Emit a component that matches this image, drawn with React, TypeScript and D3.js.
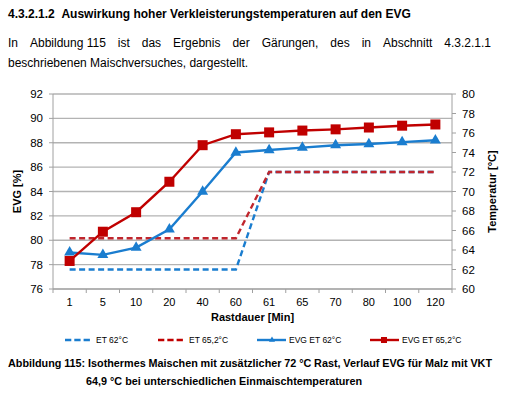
import { scaleBand, scaleLinear, line, symbol, symbolTriangle } from 'd3'

const categories = ['1', '5', '10', '20', '40', '60', '61', '65', '70', '80', '100', '120']
const et62 = [62, 62, 62, 62, 62, 62, 72, 72, 72, 72, 72, 72]
const et652 = [65.2, 65.2, 65.2, 65.2, 65.2, 65.2, 72, 72, 72, 72, 72, 72]
const evg62 = [79.0, 78.8, 79.4, 80.9, 84.0, 87.2, 87.4, 87.6, 87.8, 87.9, 88.05, 88.2]
const evg652 = [78.3, 80.7, 82.3, 84.8, 87.8, 88.7, 88.85, 89.0, 89.1, 89.25, 89.4, 89.5]
const leftTicks = [76, 78, 80, 82, 84, 86, 88, 90, 92]
const rightTicks = [60, 62, 64, 66, 68, 70, 72, 74, 76, 78, 80]

const width = 509
const height = 394
const plot = { left: 53, right: 452, top: 94, bottom: 289 }

const blue = '#1a7dcf'
const red = '#c00000'
const redDash = '#c0262d'
const FONT = 'Liberation Sans, Arial, sans-serif'

let ctx: CanvasRenderingContext2D | null = null
const measure = (txt: string, font: string) => {
  if (!ctx) ctx = document.createElement('canvas').getContext('2d')
  if (!ctx) return txt.length * 6
  ctx.font = font
  return ctx.measureText(txt).width
}

// spread words from x0 to x1 (block justified text)
const justify = (txt: string, x0: number, x1: number, font: string) => {
  const words = txt.split(' ')
  const ws = words.map(w => measure(w, font))
  const total = ws.reduce((a, b) => a + b, 0)
  const gap = (x1 - x0 - total) / (words.length - 1)
  let x = x0
  return words.map((w, i) => {
    const pos = x
    x += ws[i] + gap
    return { w, x: pos }
  })
}

function App() {
  const x = scaleBand().domain(categories).range([plot.left, plot.right])
  const yL = scaleLinear().domain([76, 92]).range([plot.bottom, plot.top])
  const yR = scaleLinear().domain([60, 80]).range([plot.bottom, plot.top])
  const cx = (i: number) => (x(categories[i]) ?? 0) + x.bandwidth() / 2

  const lineL = line<number>().x((_, i) => cx(i)).y(d => yL(d))
  const lineR = line<number>().x((_, i) => cx(i)).y(d => yR(d))
  const tri = symbol().type(symbolTriangle).size(52)()
  const triSmall = symbol().type(symbolTriangle).size(16)()

  const pFont = `12px ${FONT}`
  const para1 = justify('In Abbildung\u00a0115 ist das Ergebnis der Gärungen, des in Abschnitt 4.3.2.1.1', 8, 491, pFont)
  const cFont = `bold 10.8px ${FONT}`
  const cap1 = justify('Abbildung 115: Isothermes Maischen mit zusätzlicher 72 °C Rast, Verlauf EVG für Malz mit VKT', 8, 492, cFont)

  const legend = [
    { label: 'ET 62°C', x: 65, color: blue, dash: true },
    { label: 'ET 65,2°C', x: 158, color: red, dash: true },
    { label: 'EVG ET 62°C', x: 257, color: blue, marker: 'tri' },
    { label: 'EVG ET 65,2°C', x: 370, color: red, marker: 'sq' },
  ]
  const legY = 340

  return (
    <svg width={width} height={height} style={{ position: 'absolute', left: 0, top: 0, background: '#fff' }} fontFamily={FONT}>
      <text x={8} y={18} fontSize={12} fontWeight="bold">4.3.2.1.2{'\u00a0\u00a0'}Auswirkung hoher Verkleisterungstemperaturen auf den EVG</text>
      {para1.map(p => (
        <text key={p.w} x={p.x} y={47} fontSize={12}>{p.w}</text>
      ))}
      <text x={8} y={67} fontSize={12}>beschriebenen Maischversuches, dargestellt.</text>

      {/* grid */}
      {leftTicks.map(t => (
        <line key={t} x1={plot.left} x2={plot.right} y1={yL(t)} y2={yL(t)} stroke="#b3b3b3" strokeWidth={1.4} />
      ))}

      {/* axes */}
      <line x1={plot.left} x2={plot.left} y1={plot.top} y2={plot.bottom} stroke="#a0a0a0" />
      <line x1={plot.right} x2={plot.right} y1={plot.top} y2={plot.bottom} stroke="#a0a0a0" />
      <line x1={plot.left} x2={plot.right} y1={plot.bottom} y2={plot.bottom} stroke="#a0a0a0" />
      {leftTicks.map(t => (
        <g key={t} transform={`translate(${plot.left},${yL(t)})`}>
          <line x1={-4} x2={0} stroke="#a0a0a0" />
          <text x={-10} dy="0.35em" textAnchor="end" fontSize={11.5}>{t}</text>
        </g>
      ))}
      {rightTicks.map(t => (
        <g key={t} transform={`translate(${plot.right},${yR(t)})`}>
          <line x1={0} x2={4} stroke="#a0a0a0" />
          <text x={10} dy="0.35em" fontSize={11.5}>{t}</text>
        </g>
      ))}
      {categories.map((c, i) => (
        <g key={c}>
          <line x1={(x(c) ?? 0)} x2={(x(c) ?? 0)} y1={plot.bottom} y2={plot.bottom + 4} stroke="#a0a0a0" />
          {i === categories.length - 1 && (
            <line x1={plot.right} x2={plot.right} y1={plot.bottom} y2={plot.bottom + 4} stroke="#a0a0a0" />
          )}
          <text x={cx(i)} y={306} textAnchor="middle" fontSize={11}>{c}</text>
        </g>
      ))}
      <text x={(plot.left + plot.right) / 2} y={321} textAnchor="middle" fontSize={11} fontWeight="bold">Rastdauer [Min]</text>
      <text transform={`translate(21,${(plot.top + plot.bottom) / 2}) rotate(-90)`} textAnchor="middle" fontSize={11} fontWeight="bold">EVG [%]</text>
      <text transform={`translate(496,${(plot.top + plot.bottom) / 2}) rotate(-90)`} textAnchor="middle" fontSize={11} fontWeight="bold">Temperatur [°C]</text>

      {/* series */}
      <path d={lineR(et62) ?? ''} fill="none" stroke={blue} strokeWidth={2.4} strokeDasharray="6,3.5" />
      <path d={lineR(et652) ?? ''} fill="none" stroke={redDash} strokeWidth={2.4} strokeDasharray="6,3.5" />
      <path d={lineL(evg62) ?? ''} fill="none" stroke={blue} strokeWidth={2.4} />
      {evg62.map((v, i) => (
        <path key={i} d={tri ?? ''} transform={`translate(${cx(i)},${yL(v)})`} fill={blue} />
      ))}
      <path d={lineL(evg652) ?? ''} fill="none" stroke={red} strokeWidth={2.4} />
      {evg652.map((v, i) => (
        <rect key={i} x={cx(i) - 5} y={yL(v) - 5} width={10} height={10} fill={red} />
      ))}

      {/* legend */}
      {legend.map(l => (
        <g key={l.label}>
          {l.dash ? (
            <line x1={l.x} x2={l.x + 25} y1={legY} y2={legY} stroke={l.color} strokeWidth={2.4} strokeDasharray="6.3,3" />
          ) : (
            <line x1={l.x} x2={l.x + 29} y1={legY} y2={legY} stroke={l.color} strokeWidth={2.4} />
          )}
          {l.marker === 'tri' && <path d={triSmall ?? ''} transform={`translate(${l.x + 15},${legY})`} fill={l.color} />}
          {l.marker === 'sq' && <rect x={l.x + 11} y={legY - 3} width={6} height={6} fill={l.color} />}
          <text x={l.x + (l.dash ? 31 : 32)} y={legY} dy="0.35em" fontSize={8.5}>{l.label}</text>
        </g>
      ))}

      {/* caption */}
      {cap1.map((p, i) => (
        <text key={i} x={p.x} y={367} fontSize={10.8} fontWeight="bold">{p.w}</text>
      ))}
      <text x={86} y={385} fontSize={10.8} fontWeight="bold">64,9 °C bei unterschiedlichen Einmaischtemperaturen</text>
    </svg>
  )
}

export default App
